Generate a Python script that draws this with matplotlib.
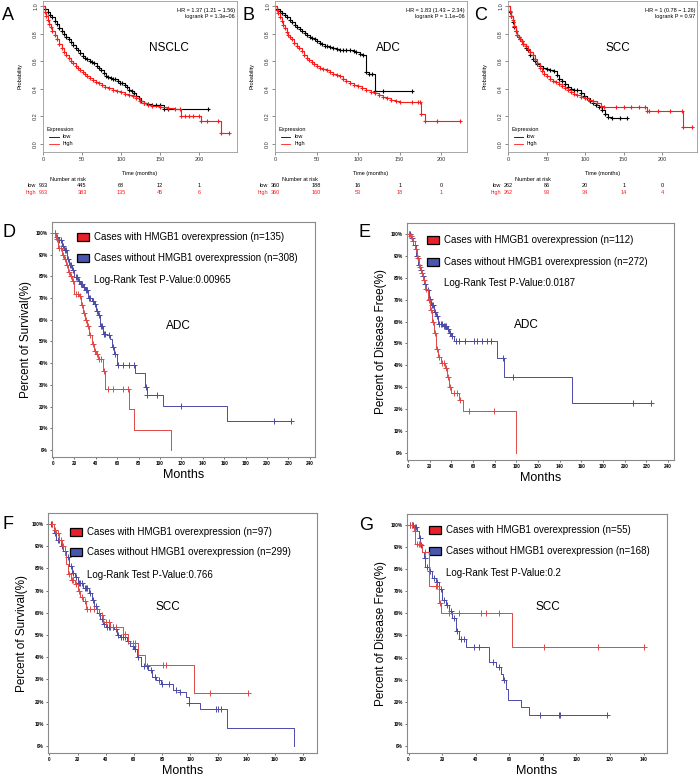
import matplotlib.pyplot as plt
import numpy as np

plt.rcParams['font.family'] = ['Liberation Sans', 'DejaVu Sans']

# ---------------- top row (KM plotter style) ----------------
a_low_t = [0, 3, 6, 9, 12, 15, 18, 21, 24, 27, 30, 33, 36, 39, 42, 45, 48, 51, 54, 57, 60, 63, 66, 69,
           72, 75, 78, 81, 84, 87, 90, 93, 96, 99, 102, 105, 108, 111, 114, 117, 120, 123, 126, 130,
           135, 140, 145, 150, 155, 160, 212]
a_low_s = [1.0, 0.98, 0.96, 0.94, 0.92, 0.895, 0.87, 0.84, 0.82, 0.80, 0.78, 0.76, 0.74, 0.72, 0.70,
           0.68, 0.66, 0.64, 0.625, 0.615, 0.605, 0.595, 0.585, 0.57, 0.555, 0.535, 0.515, 0.495, 0.485,
           0.478, 0.472, 0.47, 0.46, 0.445, 0.44, 0.43, 0.41, 0.395, 0.385, 0.37, 0.35, 0.33, 0.31, 0.30,
           0.29, 0.285, 0.285, 0.28, 0.255, 0.255, 0.255]
a_high_t = [0, 2, 4, 6, 8, 10, 12, 15, 18, 21, 24, 27, 30, 33, 36, 39, 42, 45, 48, 51, 54, 57, 60, 64,
            68, 72, 76, 80, 85, 90, 95, 100, 105, 110, 115, 120, 125, 130, 135, 140, 150, 160, 170, 176,
            177, 182, 187, 192, 200, 203, 210, 225, 228, 239]
a_high_s = [1.0, 0.96, 0.93, 0.90, 0.875, 0.85, 0.825, 0.79, 0.76, 0.73, 0.70, 0.67, 0.645, 0.625,
            0.605, 0.585, 0.565, 0.55, 0.535, 0.52, 0.505, 0.49, 0.48, 0.465, 0.45, 0.44, 0.425, 0.415,
            0.405, 0.395, 0.385, 0.375, 0.365, 0.355, 0.345, 0.33, 0.315, 0.30, 0.285, 0.275, 0.27, 0.26,
            0.255, 0.25, 0.20, 0.20, 0.20, 0.20, 0.20, 0.165, 0.165, 0.165, 0.08, 0.08]

b_low_t = [0, 3, 6, 9, 12, 15, 18, 21, 24, 27, 30, 33, 36, 39, 42, 45, 48, 51, 54, 57, 60, 63, 66, 70,
           74, 78, 82, 86, 90, 95, 98, 102, 106, 109, 113, 117, 120, 130, 165]
b_low_s = [1.0, 0.985, 0.97, 0.955, 0.94, 0.925, 0.905, 0.885, 0.865, 0.85, 0.835, 0.82, 0.805, 0.79,
           0.78, 0.77, 0.76, 0.745, 0.735, 0.725, 0.715, 0.71, 0.705, 0.70, 0.69, 0.685, 0.68, 0.68, 0.68,
           0.675, 0.665, 0.655, 0.645, 0.52, 0.505, 0.505, 0.385, 0.385, 0.385]
b_high_t = [0, 2, 4, 6, 8, 10, 12, 14, 16, 18, 20, 23, 26, 29, 32, 35, 38, 41, 44, 47, 50, 54, 58, 62,
            66, 70, 74, 78, 82, 86, 90, 95, 100, 105, 110, 115, 120, 125, 130, 135, 140, 145, 150, 165,
            172, 175, 176, 181, 195, 223]
b_high_s = [1.0, 0.975, 0.95, 0.925, 0.895, 0.865, 0.84, 0.815, 0.795, 0.775, 0.76, 0.735, 0.715, 0.695,
            0.675, 0.65, 0.625, 0.61, 0.595, 0.58, 0.565, 0.555, 0.545, 0.535, 0.525, 0.51, 0.50, 0.49,
            0.475, 0.46, 0.445, 0.43, 0.42, 0.405, 0.39, 0.38, 0.37, 0.355, 0.34, 0.33, 0.32, 0.31, 0.305,
            0.305, 0.305, 0.305, 0.22, 0.165, 0.165, 0.165]

c_low_t = [0, 2, 4, 6, 8, 10, 12, 14, 16, 18, 20, 23, 26, 29, 32, 35, 38, 41, 45, 50, 55, 60, 63, 66, 70,
           74, 78, 82, 86, 90, 94, 98, 102, 106, 110, 114, 118, 122, 126, 130, 135, 145, 154]
c_low_s = [1.0, 0.96, 0.93, 0.89, 0.85, 0.82, 0.79, 0.775, 0.76, 0.745, 0.73, 0.70, 0.68, 0.65, 0.62,
           0.60, 0.58, 0.565, 0.555, 0.545, 0.54, 0.53, 0.50, 0.47, 0.455, 0.435, 0.41, 0.40, 0.395, 0.39,
           0.37, 0.345, 0.33, 0.315, 0.30, 0.285, 0.265, 0.245, 0.22, 0.195, 0.19, 0.19, 0.19]
c_high_t = [0, 2, 4, 6, 8, 10, 12, 14, 16, 18, 20, 23, 26, 29, 32, 35, 38, 41, 44, 47, 50, 54, 58, 62,
            66, 70, 74, 78, 82, 86, 90, 95, 100, 105, 110, 115, 120, 125, 140, 150, 160, 170, 178, 180,
            183, 195, 210, 226, 227, 238]
c_high_s = [1.0, 0.965, 0.93, 0.90, 0.86, 0.82, 0.795, 0.775, 0.76, 0.745, 0.73, 0.71, 0.69, 0.67, 0.65,
            0.62, 0.59, 0.555, 0.53, 0.51, 0.49, 0.475, 0.46, 0.45, 0.435, 0.42, 0.405, 0.39, 0.375,
            0.365, 0.355, 0.34, 0.33, 0.32, 0.31, 0.295, 0.275, 0.265, 0.265, 0.265, 0.265, 0.265, 0.265,
            0.24, 0.24, 0.24, 0.24, 0.24, 0.12, 0.12]

risk_ticks = [0, 50, 100, 150, 200]
a_risk_low = [963, 445, 68, 12, 1]
a_risk_high = [963, 383, 135, 45, 6]
b_risk_low = [360, 188, 16, 1, 0]
b_risk_high = [360, 160, 53, 18, 1]
c_risk_low = [262, 86, 20, 1, 0]
c_risk_high = [262, 93, 34, 14, 4]

hr_text = {'A': ['HR = 1.37 (1.21 \u2212 1.56)', 'logrank P = 1.3e\u221206'],
           'B': ['HR = 1.83 (1.43 \u2212 2.34)', 'logrank P = 1.1e\u221206'],
           'C': ['HR = 1 (0.78 \u2212 1.26)', 'logrank P = 0.97']}

# ---------------- bottom panels ----------------
d_red_t = [0, 3, 5, 8, 10, 12, 14, 16, 18, 20, 24, 26, 28, 30, 32, 34, 36, 38, 40, 42, 47, 49, 71, 76, 110]
d_red_s = [100, 97, 93, 90, 88, 85, 82, 80, 78, 72, 71, 67, 63, 60, 57, 53, 49, 45.5, 44, 42, 36.5, 28.3,
           18.8, 9.3, 0]
d_red_c = [2, 4, 6, 7, 9, 11, 13, 15, 17, 19, 21, 23, 25, 27, 29, 31, 33, 35, 37, 39, 41, 43, 45, 48, 51,
           56, 65, 70]
d_blue_t = [0, 3, 5, 8, 10, 13, 15, 18, 20, 23, 25, 28, 30, 33, 36, 38, 40, 42, 44, 47, 50, 53, 55, 57, 60,
            77, 86, 88, 103, 163, 224]
d_blue_s = [100, 98, 96.5, 94, 92, 88, 85, 83, 79.5, 78, 76.5, 75, 73.5, 70, 68.5, 67.4, 64, 62, 57, 53.5,
            53, 51, 47.4, 44, 39, 35.7, 29, 25.5, 20.5, 13.5, 13.5]
d_blue_c = [2, 4, 6, 7, 9, 11, 12, 14, 16, 17, 19, 21, 22, 24, 26, 27, 29, 31, 32, 34, 35, 37, 39, 41, 43,
            45, 46, 48, 49, 52, 56, 58, 61, 65, 71, 76, 87, 88, 97, 120, 207, 223]

e_red_t = [0, 2, 4, 6, 8, 10, 12, 14, 16, 18, 20, 22, 24, 26, 28, 30, 34, 36, 38, 40, 47, 51, 100]
e_red_s = [100, 99, 97, 93, 89, 85, 82, 79, 75, 70, 65.5, 60, 55, 47.5, 44, 41, 39, 34.5, 30, 27.5, 24, 19, 0]
e_red_c = [1, 3, 5, 7, 9, 11, 13, 15, 17, 19, 21, 23, 25, 27, 29, 31, 33, 35, 37, 39, 42, 45, 48, 56, 79]
e_blue_t = [0, 3, 5, 7, 9, 11, 13, 15, 17, 19, 21, 24, 26, 28, 32, 36, 38, 40, 42, 82, 89, 151, 224]
e_blue_s = [100, 98, 95, 90, 86, 83.5, 81, 77, 74.5, 70.5, 67.5, 64.5, 62.5, 59, 58, 56.5, 55, 53.5, 51,
            43.5, 34.8, 23, 23]
e_blue_c = [1, 2, 4, 6, 8, 10, 12, 14, 16, 18, 20, 22, 23, 25, 27, 29, 30, 31, 33, 34, 35, 37, 39, 41, 44,
            47, 53, 61, 64, 68, 73, 77, 88, 97, 208, 224]

f_red_t = [0, 3, 5, 7, 9, 11, 12, 13, 15, 18, 20, 22, 24, 26, 35, 38, 43, 52, 56, 63, 68, 103, 141]
f_red_s = [100, 97.5, 96, 93, 90, 86, 82, 77.5, 75, 73, 70, 67, 65.5, 61.5, 59, 56, 53.5, 50.5, 46.5, 41,
           36.3, 24, 24]
f_red_c = [2, 4, 6, 8, 10, 14, 16, 17, 19, 21, 23, 25, 27, 29, 32, 34, 37, 40, 42, 45, 47, 54, 59, 61, 81,
           83, 114, 141]
f_blue_t = [0, 3, 5, 8, 10, 12, 14, 16, 18, 20, 24, 28, 30, 32, 34, 36, 38, 40, 46, 48, 50, 55, 57, 60,
            62, 65, 70, 73, 76, 79, 88, 93, 97, 99, 107, 126, 174]
f_blue_s = [100, 96, 93, 90, 88, 85, 81, 78, 76, 73.5, 71, 69, 66, 63, 60, 57, 55, 53.5, 52.6, 50, 49,
            47.5, 45, 43.5, 40, 36, 34, 31, 29.5, 28, 25, 24.5, 22, 19.5, 16.5, 8, 0]
f_blue_c = [1, 2, 4, 6, 7, 9, 11, 13, 15, 17, 19, 21, 22, 23, 25, 26, 27, 29, 31, 33, 35, 37, 39, 41, 42,
            43, 45, 47, 49, 51, 52, 54, 56, 59, 61, 63, 67, 69, 72, 75, 78, 80, 85, 90, 93, 99, 118, 120, 122]

g_red_t = [0, 3, 4, 8, 12, 18, 19.5, 61.5, 141]
g_red_s = [100, 97.5, 91.5, 88, 72.5, 64.5, 60, 45, 45]
g_red_c = [1, 2, 3.5, 5, 6, 7, 10, 16, 17, 18.5, 24, 30, 43, 46, 54, 80.5, 113, 140.5]
g_blue_t = [0, 3, 5, 6, 7, 8, 9, 10, 12, 14, 16, 18, 20, 22, 24, 26, 28, 30, 34, 48, 52, 55, 56, 58, 59,
            67, 72, 118]
g_blue_s = [100, 99, 97.5, 94, 91, 88, 85, 81, 79, 76, 74, 71, 66, 64, 61, 58, 52, 48.4, 44.8, 38, 35.8,
            32.6, 30, 26, 21, 17.5, 14, 14]
g_blue_c = [1, 2, 2.5, 4, 4.5, 6.5, 7.5, 9.5, 11, 13, 15, 17, 19, 21, 23, 25, 27, 29, 31, 33, 39, 42, 50,
            54, 57, 78.5, 89.4, 90, 118]

n_with = {'D': 135, 'E': 112, 'F': 97, 'G': 55}
n_without = {'D': 308, 'E': 272, 'F': 299, 'G': 168}
pvals = {'D': '0.00965', 'E': '0.0187', 'F': '0.766', 'G': '0.2'}

RED_TOP = '#ff1a1a'
RED = '#e04848'
BLUE = '#4b4ba8'
RED_PATCH = '#e8202a'
BLUE_PATCH = '#4a56ad'

W, H = 700, 784
fig = plt.figure(figsize=(7, 7.84), dpi=100)


def px_axes(x0, y0, x1, y1):
    return fig.add_axes([x0 / W, 1 - y1 / H, (x1 - x0) / W, (y1 - y0) / H])


def km(ax, t, s, cens, color, lw, ms):
    ax.plot(t, s, drawstyle='steps-post', color=color, lw=lw)
    t = np.asarray(t)
    cy = [s[np.searchsorted(t, c, side='right') - 1] for c in cens]
    ax.plot(cens, cy, ls='none', marker='+', color=color, ms=ms, mew=lw)


def letter(ch, x, y):
    fig.text(x / W, 1 - y / H, ch, fontsize=13, va='baseline', ha='left')


# ---- top row ----
top = [
    ('A', (43, 1, 237, 152), 249, a_low_t, a_low_s, a_high_t, a_high_s, a_risk_low, a_risk_high, 'NSCLC',
     0.65, (2, 20)),
    ('B', (275, 1, 467, 152), 231, b_low_t, b_low_s, b_high_t, b_high_s, b_risk_low, b_risk_high, 'ADC',
     0.59, (242, 20)),
    ('C', (508, 1, 697, 152), 245, c_low_t, c_low_s, c_high_t, c_high_s, c_risk_low, c_risk_high, 'SCC',
     0.58, (474, 20)),
]
for key, box, xmax, lt, ls_, ht, hs, rl, rh, name, nx, lpos in top:
    ax = px_axes(*box)
    km(ax, lt, ls_, lt[1:], 'black', 0.8, 3)
    km(ax, ht, hs, ht[1:], RED_TOP, 0.8, 3)
    ax.set_xlim(0, xmax)
    ax.set_ylim(-0.06, 1.04)
    ax.set_xticks(risk_ticks)
    ax.set_yticks([0, 0.2, 0.4, 0.6, 0.8, 1.0])
    ax.set_yticklabels(['0.0', '0.2', '0.4', '0.6', '0.8', '1.0'], rotation=90, va='center')
    ax.tick_params(labelsize=4, length=2, width=0.4, pad=1.5, colors='#333333')
    for sp in ax.spines.values():
        sp.set_color('#999999')
        sp.set_linewidth(0.6)
    ax.text(0.99, 0.94, hr_text[key][0], transform=ax.transAxes, ha='right', va='center', fontsize=4)
    ax.text(0.99, 0.90, hr_text[key][1], transform=ax.transAxes, ha='right', va='center', fontsize=4)
    ax.text(nx, 0.69, name, transform=ax.transAxes, ha='center', va='center', fontsize=8.5)
    ax.text(0.02, 0.15, 'Expression', transform=ax.transAxes, fontsize=4, va='center')
    ax.plot([0.03, 0.08], [0.10, 0.10], color='black', lw=0.6, transform=ax.transAxes)
    ax.plot([0.03, 0.08], [0.055, 0.055], color=RED_TOP, lw=0.6, transform=ax.transAxes)
    ax.text(0.10, 0.10, 'low', transform=ax.transAxes, fontsize=4, va='center')
    ax.text(0.10, 0.055, 'high', transform=ax.transAxes, fontsize=4, va='center')
    ax.text(0.5, -0.14, 'Time (months)', transform=ax.transAxes, ha='center', va='center', fontsize=4)
    ax.text(-0.12, 0.5, 'Probability', transform=ax.transAxes, ha='center', va='center', fontsize=4,
            rotation=90)
    tr = ax.get_xaxis_transform()
    ax.text(0.13, -0.18, 'Number at risk', transform=ax.transAxes, ha='center', va='center', fontsize=4)
    ax.text(-0.035, -0.22, 'low', transform=ax.transAxes, ha='right', va='center', fontsize=4)
    ax.text(-0.035, -0.265, 'high', transform=ax.transAxes, ha='right', va='center', fontsize=4,
            color=RED_TOP)
    for tk, vl, vh in zip(risk_ticks, rl, rh):
        ax.text(tk, -0.22, str(vl), transform=tr, ha='center', va='center', fontsize=4, clip_on=False)
        ax.text(tk, -0.265, str(vh), transform=tr, ha='center', va='center', fontsize=4, color=RED_TOP,
                clip_on=False)
    letter(key, *lpos)

# ---- bottom panels ----
bottom = [
    ('D', (52, 222, 315, 457), 245, 20, d_red_t, d_red_s, d_red_c, d_blue_t, d_blue_s, d_blue_c,
     'Percent of Survival(%)', 'ADC', (0.095, 0.16, 0.936, 0.847, 0.753), (0.48, 0.557), (2, 237)),
    ('E', (407, 223, 674, 460), 245.5, 20, e_red_t, e_red_s, e_red_c, e_blue_t, e_blue_s, e_blue_c,
     'Percent of Disease Free(%)', 'ADC', (0.075, 0.139, 0.928, 0.835, 0.747), (0.446, 0.57), (358, 237)),
    ('F', (48, 513, 317, 753), 190, 20, f_red_t, f_red_s, f_red_c, f_blue_t, f_blue_s, f_blue_c,
     'Percent of Survival(%)', 'SCC', (0.082, 0.145, 0.921, 0.837, 0.742), (0.446, 0.61), (2, 529)),
    ('G', (407, 514, 667, 753), 154, 20, g_red_t, g_red_s, g_red_c, g_blue_t, g_blue_s, g_blue_c,
     'Percent of Disease Free(%)', 'SCC', (0.085, 0.15, 0.933, 0.845, 0.753), (0.54, 0.61), (359, 530)),
]
for key, box, xmax, xstep, rt, rs, rc, bt, bs, bc, ylab, name, leg, npos, lpos in bottom:
    ax = px_axes(*box)
    km(ax, bt, bs, bc, BLUE, 0.7, 4)
    km(ax, rt, rs, rc, RED, 0.7, 4)
    ax.set_xlim(-1, xmax)
    ax.set_ylim(-3.2, 105)
    ax.set_xticks(np.arange(0, xmax - 4, xstep))
    ax.set_yticks(np.arange(0, 101, 10))
    ax.set_yticklabels([f'{v}%' for v in range(0, 101, 10)])
    ax.tick_params(labelsize=3.3, length=1.5, width=0.4, pad=1.5)
    for lab in ax.get_xticklabels() + ax.get_yticklabels():
        lab.set_fontweight('bold')
    for sp in ax.spines.values():
        sp.set_color('#8a8a8a')
        sp.set_linewidth(0.8)
    px, tx, y1, y2, y3 = leg
    pw = 12 / (box[2] - box[0])
    ph = 8 / (box[3] - box[1])
    for yy, fc, txt in [(y1, RED_PATCH, f'Cases with HMGB1 overexpression (n={n_with[key]})'),
                        (y2, BLUE_PATCH, f'Cases without HMGB1 overexpression (n={n_without[key]})')]:
        ax.add_patch(plt.Rectangle((px, yy - ph / 2), pw, ph, transform=ax.transAxes, facecolor=fc,
                                   edgecolor='black', lw=0.9))
        ax.text(tx, yy, txt, transform=ax.transAxes, fontsize=7, va='center')
    ax.text(tx, y3, f'Log-Rank Test P-Value:{pvals[key]}', transform=ax.transAxes, fontsize=7,
            va='center')
    ax.text(npos[0], npos[1], name, transform=ax.transAxes, fontsize=8.5, ha='center', va='center')
    ax.set_xlabel('Months', fontsize=9, labelpad=2)
    ax.set_ylabel(ylab, fontsize=8.5, labelpad=3)
    letter(key, *lpos)

fig.savefig('out.png', dpi=100)
